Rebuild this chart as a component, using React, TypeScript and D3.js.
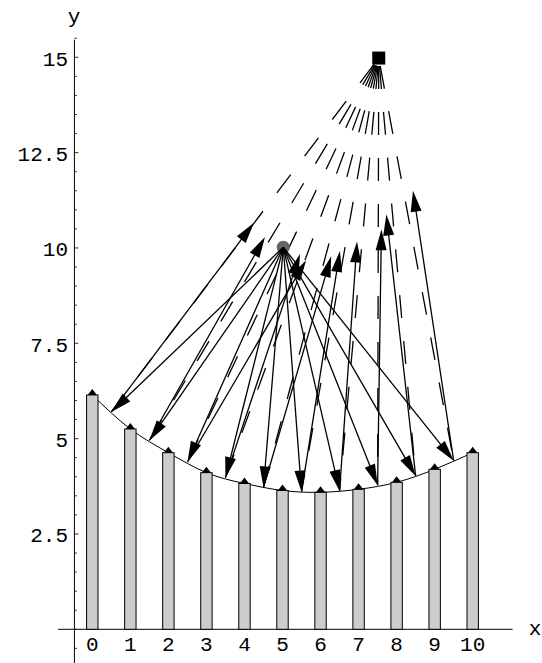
import React from 'react';
import * as d3 from 'd3';

const W = 542;
const H = 663;

// bar heights at x = 0..10
const barX = [0, 1, 2, 3, 4, 5, 6, 7, 8, 9, 10];
const barY = [6.145, 5.253, 4.631, 4.107, 3.824, 3.64, 3.593, 3.671, 3.855, 4.196, 4.631];

// where the rays from the source hit the curve
const hitX = [0.5, 1.5, 2.5, 3.5, 4.5, 5.5, 6.5, 7.5, 8.5, 9.5];
const hitY = [5.7, 4.95, 4.38, 3.97, 3.72, 3.61, 3.63, 3.78, 4.02, 4.42];

// tips of the reflected arrows
const outX = [4.25, 4.54, 5.62, 5.46, 6.28, 6.51, 6.96, 7.6, 7.73, 8.43];
const outY = [10.66, 10.29, 9.68, 9.84, 9.78, 9.92, 10.17, 10.49, 10.88, 11.5];

const source = [5.02, 10.02];
const focus = [7.53, 14.98];

const xTicks = [0, 1, 2, 3, 4, 5, 6, 7, 8, 9, 10];
const yTicks = [2.5, 5, 7.5, 10, 12.5, 15];
const yTickLabels = ['2.5', '5', '7.5', '10', '12.5', '15'];
const yMinor = d3.range(-0.5, 15.51, 0.5);

const xScale = d3.scaleLinear().domain([0, 10]).range([92.3, 472.7]);
const yScale = d3.scaleLinear().domain([0, 15]).range([629.3, 57.3]);

const font = '"Liberation Mono", "Courier New", monospace';

// filled triangle head at (x2,y2), line ends at the base
function arrow(x1: number, y1: number, x2: number, y2: number, key: string) {
  const L = 21, hw = 5.5;
  const d = Math.hypot(x2 - x1, y2 - y1);
  const ux = (x2 - x1) / d, uy = (y2 - y1) / d;
  const bx = x2 - L * ux, by = y2 - L * uy;
  const pts = [
    [x2, y2],
    [bx - hw * uy, by + hw * ux],
    [bx + hw * uy, by - hw * ux],
  ];
  return (
    <g key={key}>
      <line x1={x1} y1={y1} x2={bx + 2 * ux} y2={by + 2 * uy} stroke="#000" strokeWidth={1.3} />
      <polygon points={pts.map((p) => p.join(',')).join(' ')} fill="#000" />
    </g>
  );
}

export default function App() {
  const curve = d3
    .line<number>()
    .x((d) => xScale(barX[d]))
    .y((d) => yScale(barY[d]))
    .curve(d3.curveNatural)(barX.map((_, i) => i));

  const sx = xScale(source[0]), sy = yScale(source[1]);
  const fx = xScale(focus[0]), fy = yScale(focus[1]);
  const bw = xScale(0.15) - xScale(0);

  return (
    <svg width={W} height={H} style={{ position: 'absolute', left: 0, top: 0, background: '#fff' }}>
      {/* axes */}
      <line x1={xScale(-0.9)} x2={xScale(11.05)} y1={yScale(0)} y2={yScale(0)} stroke="#000" strokeWidth={1} />
      <line x1={xScale(-0.47)} x2={xScale(-0.47)} y1={yScale(15.46)} y2={H} stroke="#000" strokeWidth={1} />
      {yMinor.map((v) => {
        const major = yTicks.some((t) => Math.abs(t - v) < 1e-6);
        return (
          <line key={'ym' + v} x1={xScale(-0.47)} x2={xScale(-0.47) + (major ? 4 : 2.5)}
            y1={yScale(v)} y2={yScale(v)} stroke="#000" strokeWidth={0.8} />
        );
      })}
      {xTicks.map((v) => (
        <line key={'xt' + v} x1={xScale(v)} x2={xScale(v)} y1={yScale(0)} y2={yScale(0) - 4} stroke="#000" strokeWidth={0.8} />
      ))}

      {/* curve under the bars */}
      <path d={curve || ''} fill="none" stroke="#000" strokeWidth={1} />

      {/* bars with markers */}
      {barX.map((v, i) => (
        <g key={'b' + i}>
          <rect x={xScale(v) - bw} width={2 * bw} y={yScale(barY[i])} height={yScale(0) - yScale(barY[i])}
            fill="#cccccc" stroke="#000" strokeWidth={1} />
          <polygon
            points={`${xScale(v) - 4.6},${yScale(barY[i])} ${xScale(v) + 4.6},${yScale(barY[i])} ${xScale(v)},${yScale(barY[i]) - 6}`}
            fill="#000" />
        </g>
      ))}

      {/* dashed lines from the focus to the hit points */}
      {hitX.map((v, i) => (
        <line key={'d' + i} x1={fx} y1={fy} x2={xScale(v)} y2={yScale(hitY[i])}
          stroke="#000" strokeWidth={1.3} strokeDasharray="23 23" strokeDashoffset={38} />
      ))}

      <circle cx={sx} cy={sy} r={6.5} fill="#666" />

      {/* incoming rays */}
      {hitX.map((v, i) => arrow(sx, sy, xScale(v), yScale(hitY[i]), 'in' + i))}
      {/* reflected rays */}
      {hitX.map((v, i) => arrow(xScale(v), yScale(hitY[i]), xScale(outX[i]), yScale(outY[i]), 'out' + i))}

      <rect x={fx - 6.5} y={fy - 6.5} width={13} height={13} fill="#000" />

      {/* labels */}
      {xTicks.map((v) => (
        <text key={'xl' + v} x={xScale(v)} y={650.5} textAnchor="middle" fontFamily={font} fontSize={21}>{v}</text>
      ))}
      {yTicks.map((v, i) => (
        <text key={'yl' + v} x={68} y={yScale(v) + 8.5} textAnchor="end" fontFamily={font} fontSize={21}>{yTickLabels[i]}</text>
      ))}
      <text x={535} y={635} textAnchor="middle" fontFamily={font} fontSize={21}>x</text>
      <text x={74} y={23} textAnchor="middle" fontFamily={font} fontSize={21}>y</text>
    </svg>
  );
}
